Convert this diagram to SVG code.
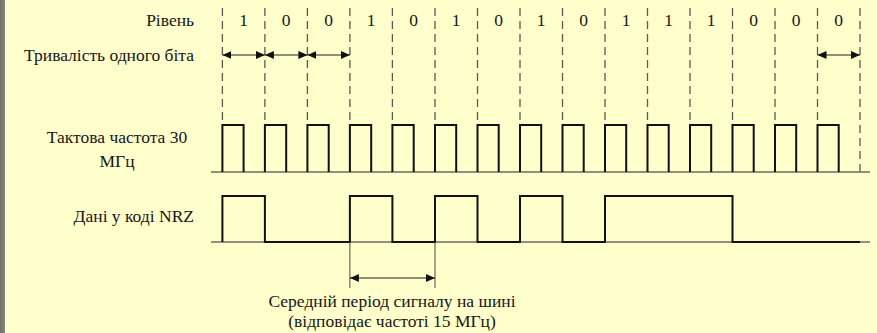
<svg xmlns="http://www.w3.org/2000/svg" width="877" height="333" viewBox="0 0 877 333">
  <defs>
    <marker id="ah" viewBox="0 0 9 8" refX="9" refY="4" markerWidth="9" markerHeight="8" markerUnits="userSpaceOnUse" orient="auto-start-reverse">
      <path d="M0,0 L9,4 L0,8 Z" fill="#111"/>
    </marker>
    <linearGradient id="edge" x1="0" y1="0" x2="1" y2="0">
      <stop offset="0" stop-color="#6f7266"/>
      <stop offset="1" stop-color="#858878"/>
    </linearGradient>
  </defs>
  <style>
    text { font-size: 17.5px; fill: #161616; }
    .bit { text-anchor: middle; }
    .lbl { text-anchor: end; }
    .mid { text-anchor: middle; }
    .grid { stroke: #5a5a52; stroke-width: 1.3; stroke-dasharray: 8 5; fill: none; }
    .base { stroke: #6b6b62; stroke-width: 1.4; fill: none; }
    .sig { stroke: #111; stroke-width: 2; fill: none; stroke-linejoin: miter; }
    .dim { stroke: #222; stroke-width: 1.1; fill: none; }
    .tick { stroke: #4a4a42; stroke-width: 1; fill: none; }
  </style>

  <!-- page background with grey left margin -->
  <rect x="0" y="0" width="877" height="333" fill="#FFFFCC"/>
  <rect x="0" y="0" width="5" height="333" fill="url(#edge)"/>

  <g font-family="'Liberation Serif', 'DejaVu Serif', 'Times New Roman', serif">
    <!-- row labels -->
    <g id="labels">
      <text class="lbl" x="194" y="26">Рівень</text>
      <text class="lbl" x="194" y="61">Тривалість одного біта</text>
      <text class="mid" x="117" y="143">Тактова частота 30</text>
      <text class="mid" x="117" y="167">МГц</text>
      <text class="lbl" x="194" y="222">Дані у коді NRZ</text>
    </g>

    <!-- bit values -->
    <g id="levels">
      <text class="bit" x="243.6" y="26">1</text>
      <text class="bit" x="286.2" y="26">0</text>
      <text class="bit" x="328.7" y="26">0</text>
      <text class="bit" x="371.2" y="26">1</text>
      <text class="bit" x="413.7" y="26">0</text>
      <text class="bit" x="456.2" y="26">1</text>
      <text class="bit" x="498.7" y="26">0</text>
      <text class="bit" x="541.2" y="26">1</text>
      <text class="bit" x="583.7" y="26">0</text>
      <text class="bit" x="626.2" y="26">1</text>
      <text class="bit" x="668.7" y="26">1</text>
      <text class="bit" x="711.2" y="26">1</text>
      <text class="bit" x="753.7" y="26">0</text>
      <text class="bit" x="796.2" y="26">0</text>
      <text class="bit" x="838.7" y="26">0</text>
    </g>

    <!-- period caption -->
    <g id="caption">
      <text class="mid" x="392" y="307">Середній період сигналу на шині</text>
      <text class="mid" x="392" y="327">(відповідає частоті 15 МГц)</text>
    </g>
  </g>

  <!-- bit boundaries -->
  <g id="grid">
    <path class="grid" d="M222.4,8 V122 M264.9,8 V122 M307.4,8 V122 M349.9,8 V122 M392.4,8 V122 M435,8 V122 M477.5,8 V122 M520,8 V122 M562.5,8 V122 M605,8 V122 M647.5,8 V122 M690,8 V122 M732.5,8 V122 M775,8 V122 M817.5,8 V122 M860,8 V172"/>
  </g>

  <!-- 30 MHz clock -->
  <g id="clock">
    <path class="base" d="M211,172 H870"/>
    <path class="sig" d="M222.4,172 V125 H243.6 V172 M264.9,172 V125 H286.2 V172 M307.4,172 V125 H328.7 V172 M349.9,172 V125 H371.2 V172 M392.4,172 V125 H413.7 V172 M435,172 V125 H456.2 V172 M477.5,172 V125 H498.7 V172 M520,172 V125 H541.2 V172 M562.5,172 V125 H583.7 V172 M605,172 V125 H626.2 V172 M647.5,172 V125 H668.7 V172 M690,172 V125 H711.2 V172 M732.5,172 V125 H753.7 V172 M775,172 V125 H796.2 V172 M817.5,172 V125 H838.7 V172"/>
  </g>

  <!-- NRZ data -->
  <g id="nrz">
    <path class="base" d="M211,242 H870"/>
    <path class="sig" d="M222.4,242 V196 H264.9 V242 H349.9 V196 H392.4 V242 H435 V196 H477.5 V242 H520 V196 H562.5 V242 H605 V196 H732.5 V242 H860"/>
  </g>

  <!-- dimension arrows -->
  <g id="connectors">
    <path class="dim" d="M222.4,55 H264.9" marker-start="url(#ah)" marker-end="url(#ah)"/>
    <path class="dim" d="M264.9,55 H307.4" marker-start="url(#ah)" marker-end="url(#ah)"/>
    <path class="dim" d="M307.4,55 H349.9" marker-start="url(#ah)" marker-end="url(#ah)"/>
    <path class="dim" d="M817.5,55 H860" marker-start="url(#ah)" marker-end="url(#ah)"/>
    <path class="tick" d="M349.9,242 V288 M435,242 V288"/>
    <path class="dim" d="M349.9,278 H435" marker-start="url(#ah)" marker-end="url(#ah)"/>
  </g>
</svg>
